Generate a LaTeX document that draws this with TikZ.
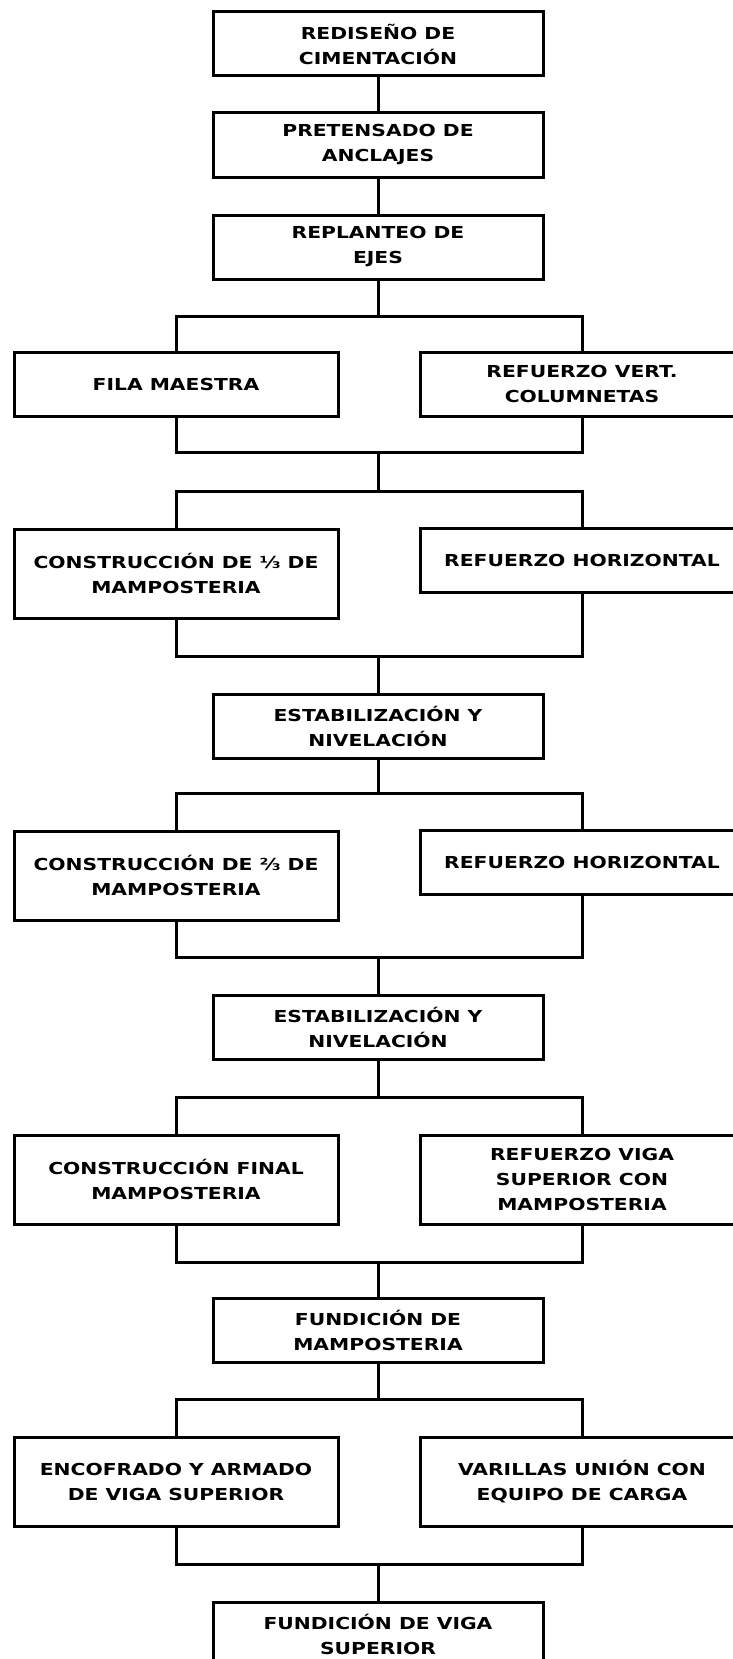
\documentclass[tikz,border=0pt]{standalone}
\usepackage{fontspec}
\newfontfamily\pixfont[FakeStretch=1.23]{DejaVu Sans}
\tikzset{
  caja/.style={draw,line width=3pt,inner sep=0pt,align=center,
    minimum width=330pt,minimum height=64pt,
    font=\pixfont\bfseries\fontsize{16.5}{25}\selectfont},
  lado/.style={caja,minimum width=324pt},
  alta/.style={minimum height=89pt},
  linea/.style={line width=3pt,line cap=rect,line join=miter}
}
\begin{document}
\begin{tikzpicture}[x=1pt,y=-1pt]
\useasboundingbox (0,0) rectangle (733,1659);
\clip (0,0) rectangle (733,1659);
\node(redis) at (378,44)[caja]        {REDISEÑO DE\\CIMENTACIÓN};
\node(pret) at (378,145)[caja]        {PRETENSADO DE\\ANCLAJES};
\node(repl) at (378,247)[caja]        {REPLANTEO DE\\EJES};
\node(fila) at (176,384)[lado]        {FILA MAESTRA};
\node(vert) at (582,384)[lado]        {REFUERZO VERT.\\COLUMNETAS};
\node(tercio) at (176,573.5)[lado,alta]   {CONSTRUCCIÓN DE ⅓ DE\\MAMPOSTERIA};
\node(horiza) at (582,560.5)[lado]    {REFUERZO HORIZONTAL};
\node(estaba) at (378,726)[caja]      {ESTABILIZACIÓN Y\\NIVELACIÓN};
\node(dostercios) at (176,875.5)[lado,alta] {CONSTRUCCIÓN DE ⅔ DE\\MAMPOSTERIA};
\node(horizb) at (582,862.5)[lado]    {REFUERZO HORIZONTAL};
\node(estabb) at (378,1027.5)[caja]   {ESTABILIZACIÓN Y\\NIVELACIÓN};
\node(final) at (176,1179.5)[lado,alta]   {CONSTRUCCIÓN FINAL\\MAMPOSTERIA};
\node(viga) at (582,1179.5)[lado,alta]    {REFUERZO VIGA\\SUPERIOR CON\\MAMPOSTERIA};
\node(funda) at (378,1330)[caja]      {FUNDICIÓN DE\\MAMPOSTERIA};
\node(encof) at (176,1482)[lado,alta]     {ENCOFRADO Y ARMADO\\DE VIGA SUPERIOR};
\node(varil) at (582,1482)[lado,alta]     {VARILLAS UNIÓN CON\\EQUIPO DE CARGA};
\node(fundb) at (378,1634)[caja]      {FUNDICIÓN DE VIGA\\SUPERIOR};
% puntos de reparto y de union
\coordinate(b1) at (378,316);
\coordinate(j1) at (378,452);
\coordinate(b2) at (378,491);
\coordinate(j2) at (378,656);
\coordinate(b3) at (378,793);
\coordinate(j3) at (378,957);
\coordinate(b4) at (378,1097);
\coordinate(j4) at (378,1262);
\coordinate(b5) at (378,1399);
\coordinate(j5) at (378,1564);
\path [linea]
  (redis)  edge  (pret)
  (pret)   edge  (repl)
  (repl)   edge  (b1)
  (j1)     edge  (b2)
  (j2)     edge  (estaba)
  (estaba) edge  (b3)
  (j3)     edge  (estabb)
  (estabb) edge  (b4)
  (j4)     edge  (funda)
  (funda)  edge  (b5)
  (j5)     edge  (fundb);
\draw [linea] (fila) |- (b1) -| (vert);
\draw [linea] (fila) |- (j1) -| (vert);
\draw [linea] (tercio) |- (b2) -| (horiza);
\draw [linea] (tercio) |- (j2) -| (horiza);
\draw [linea] (dostercios) |- (b3) -| (horizb);
\draw [linea] (dostercios) |- (j3) -| (horizb);
\draw [linea] (final) |- (b4) -| (viga);
\draw [linea] (final) |- (j4) -| (viga);
\draw [linea] (encof) |- (b5) -| (varil);
\draw [linea] (encof) |- (j5) -| (varil);
\end{tikzpicture}
\end{document}
